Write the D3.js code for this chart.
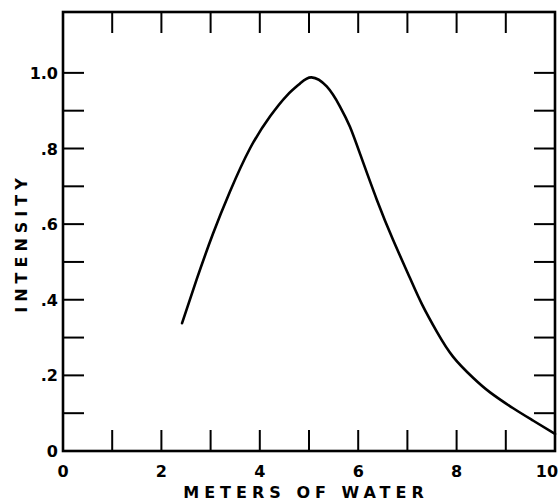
<!DOCTYPE html>
<html lang="en">
<head>
  <meta charset="UTF-8">
  <title>Intensity vs meters of water</title>
  <style>
    body { margin: 0; background: #fff; }
    .frame { fill: none; stroke: #000; stroke-width: 2.6px; }
    .tick { stroke: #000; stroke-width: 2px; }
    .curve { fill: none; stroke: #000; stroke-width: 2.6px; stroke-linecap: round; }
    .lbl { font-family: "DejaVu Sans", sans-serif; font-weight: bold; font-size: 16px; fill: #000; }
    .title { font-family: "DejaVu Sans", sans-serif; font-weight: bold; font-size: 16px; letter-spacing: 5px; fill: #000; }
  </style>
</head>
<body>
<div id="chart"></div>
<script src="https://d3js.org/d3.v7.min.js"></script>
<script>
  // curve
  var depth = [2.42, 2.72, 3.05, 3.39, 3.8, 4.21, 4.55, 4.82, 5.05, 5.36, 5.63, 5.83, 6.04, 6.38, 6.71, 7.05, 7.3, 7.6, 7.93, 8.34, 8.68, 9.15, 9.56, 10];
  var intensity = [0.338, 0.455, 0.575, 0.685, 0.8, 0.885, 0.94, 0.972, 0.988, 0.964, 0.911, 0.858, 0.785, 0.664, 0.558, 0.458, 0.387, 0.315, 0.249, 0.193, 0.155, 0.113, 0.08, 0.045];

  var xTickLabels = [0, 2, 4, 6, 8, 10];
  var yTickLabels = [0, 0.2, 0.4, 0.6, 0.8, 1.0];
  var xMinorTicks = [1, 2, 3, 4, 5, 6, 7, 8, 9];
  var yMinorTicks = [0.1, 0.2, 0.3, 0.4, 0.5, 0.6, 0.7, 0.8, 0.9, 1.0];

  var width = 559, height = 503;
  var plotL = 63, plotR = 555, plotT = 12, plotB = 451;
  var tickLen = 21;

  var svg = d3.select("#chart").append("svg")
    .attr("width", width)
    .attr("height", height);

  var x = d3.scaleLinear().domain([0, 10]).range([plotL, plotR]);
  var y = d3.scaleLinear().domain([0, 1.161]).range([plotB, plotT]);

  // inward ticks on all four sides
  var g = svg.append("g");
  g.selectAll(".xb").data(xMinorTicks).enter().append("line")
    .attr("class", "tick")
    .attr("x1", function(d) { return x(d); }).attr("x2", function(d) { return x(d); })
    .attr("y1", plotB).attr("y2", plotB - tickLen);
  g.selectAll(".xt").data(xMinorTicks).enter().append("line")
    .attr("class", "tick")
    .attr("x1", function(d) { return x(d); }).attr("x2", function(d) { return x(d); })
    .attr("y1", plotT).attr("y2", plotT + tickLen);
  g.selectAll(".yl").data(yMinorTicks).enter().append("line")
    .attr("class", "tick")
    .attr("y1", function(d) { return y(d); }).attr("y2", function(d) { return y(d); })
    .attr("x1", plotL).attr("x2", plotL + tickLen);
  g.selectAll(".yr").data(yMinorTicks).enter().append("line")
    .attr("class", "tick")
    .attr("y1", function(d) { return y(d); }).attr("y2", function(d) { return y(d); })
    .attr("x1", plotR).attr("x2", plotR - tickLen);

  svg.append("rect")
    .attr("class", "frame")
    .attr("x", plotL).attr("y", plotT)
    .attr("width", plotR - plotL).attr("height", plotB - plotT);

  // tick labels (the last one is pulled in so it stays on the page)
  svg.selectAll(".xl").data(xTickLabels).enter().append("text")
    .attr("class", "lbl")
    .attr("x", function(d) { return Math.min(x(d), width - 12); })
    .attr("y", plotB + 26)
    .attr("text-anchor", "middle")
    .text(function(d) { return d; });

  svg.selectAll(".ylab").data(yTickLabels).enter().append("text")
    .attr("class", "lbl")
    .attr("x", plotL - 5)
    .attr("y", function(d) { return y(d) + 6; })
    .attr("text-anchor", "end")
    .text(function(d) {
      if (d === 0) return "0";
      if (d === 1) return "1.0";
      return d3.format(".1f")(d).replace(/^0/, "");
    });

  // axis titles
  svg.append("text")
    .attr("class", "title")
    .attr("x", 306)
    .attr("y", 498)
    .attr("text-anchor", "middle")
    .text("METERS  OF  WATER");

  svg.append("text")
    .attr("class", "title")
    .attr("transform", "translate(27,243) rotate(-90)")
    .attr("text-anchor", "middle")
    .text("INTENSITY");

  // the curve
  var pts = depth.map(function(d, i) { return [d, intensity[i]]; });
  var line = d3.line()
    .x(function(d) { return x(d[0]); })
    .y(function(d) { return y(d[1]); })
    .curve(d3.curveNatural);

  svg.append("path")
    .attr("class", "curve")
    .attr("d", line(pts));
</script>
</body>
</html>
